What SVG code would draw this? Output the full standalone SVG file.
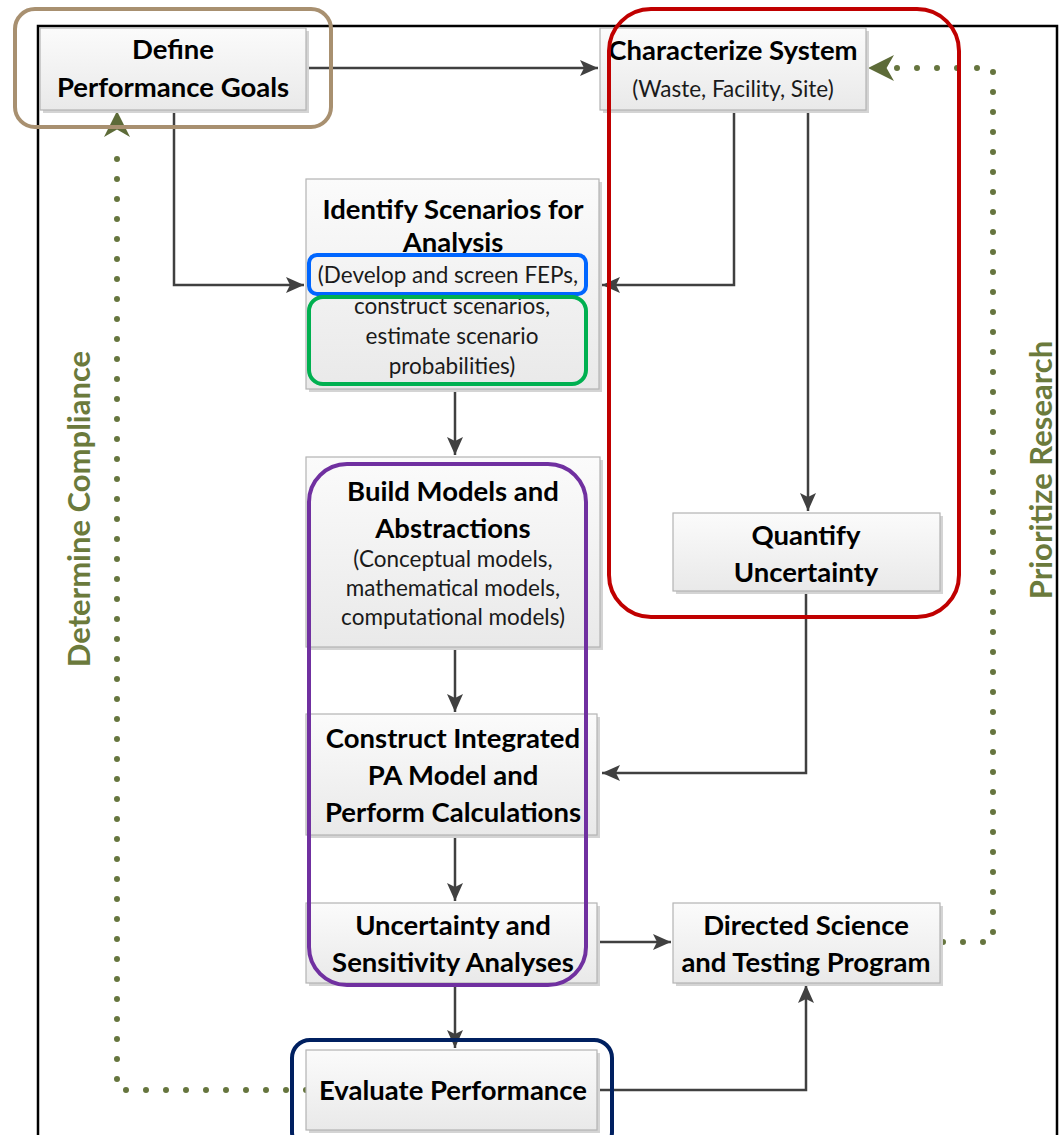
<svg xmlns="http://www.w3.org/2000/svg" width="1063" height="1135" viewBox="0 0 1063 1135">
  <defs>
    <linearGradient id="boxFill" x1="0" y1="0" x2="0" y2="1">
      <stop offset="0" stop-color="#fbfbfb"/>
      <stop offset="1" stop-color="#e9e9e9"/>
    </linearGradient>
    <marker id="arrow" viewBox="0 0 18 16" refX="18" refY="8" markerWidth="18" markerHeight="16" markerUnits="userSpaceOnUse" orient="auto">
      <path d="M0,0 L18,8 L0,16 L4,8 Z" fill="#404040"/>
    </marker>
    <marker id="arrowGreen" viewBox="0 0 14 14" refX="14" refY="7" markerWidth="26" markerHeight="26" markerUnits="userSpaceOnUse" orient="auto">
      <path d="M0,0 L14,7 L0,14 L4,7 Z" fill="#5d6b38"/>
    </marker>
  </defs>
  <style>
    .box { fill: url(#boxFill); stroke: #b3b3b3; stroke-width: 1.2; }
    .shadow { fill: #d4d4d4; }
    .title { font-family: Lato, "Liberation Sans", sans-serif; font-weight: bold; font-size: 27.5px; fill: #000; text-anchor: middle; }
    .sub { font-family: Lato, "Liberation Sans", sans-serif; font-size: 22.5px; fill: #1a1a1a; text-anchor: middle; }
    .conn { fill: none; stroke: #404040; stroke-width: 2.5; marker-end: url(#arrow); }
    .dots { fill: none; stroke: #66753e; stroke-width: 6; stroke-linecap: round; stroke-dasharray: 0 20; }
    .side { font-family: Lato, "Liberation Sans", sans-serif; font-weight: bold; font-size: 31px; fill: #6b7a3c; text-anchor: middle; }
    .hl { fill: none; stroke-width: 4; }
  </style>

  <rect width="1063" height="1135" fill="#ffffff"/>

  <!-- outer frame -->
  <path d="M38,1135 L38,26 L1057,26 L1057,1135" fill="none" stroke="#000" stroke-width="2.5"/>

  <!-- connectors -->
  <g id="connectors">
    <path class="conn" d="M306,68 L598,68"/>
    <path class="conn" d="M174,110 L174,285 L304,285"/>
    <path class="conn" d="M734,110 L734,285 L602,285"/>
    <path class="conn" d="M808,110 L808,511"/>
    <path class="conn" d="M455,390 L455,455"/>
    <path class="conn" d="M455,647 L455,712"/>
    <path class="conn" d="M806,591 L806,773 L602,773"/>
    <path class="conn" d="M455,835 L455,901"/>
    <path class="conn" d="M455,983 L455,1048"/>
    <path class="conn" d="M600,942 L671,942"/>
    <path class="conn" d="M600,1090 L806,1090 L806,985"/>
    <!-- feedback loops -->
    <path class="dots" d="M943,942 L993,942 L993,68 L895,68"/>
    <path d="M896,68 L868,68" stroke="none" marker-end="url(#arrowGreen)"/>
    <path class="dots" d="M306,1090 L117,1090 L117,142"/>
    <path d="M117,140 L117,111" stroke="none" marker-end="url(#arrowGreen)"/>
  </g>

  <!-- loop labels -->
  <text class="side" transform="translate(90,509) rotate(-90)">Determine Compliance</text>
  <text class="side" transform="translate(1052,470) rotate(-90)">Prioritize Research</text>

  <g id="define">
    <rect class="shadow" x="43" y="31" width="266" height="82"/>
    <rect class="box" x="40" y="28" width="266" height="82"/>
    <text class="title" x="173" y="59">Define</text>
    <text class="title" x="173" y="97">Performance Goals</text>
  </g>

  <g id="characterize">
    <rect class="shadow" x="603" y="31" width="266" height="82"/>
    <rect class="box" x="600" y="28" width="266" height="82"/>
    <text class="title" x="733" y="60">Characterize System</text>
    <text class="sub" x="733" y="97">(Waste, Facility, Site)</text>
  </g>

  <g id="identify">
    <rect class="shadow" x="309" y="182" width="293" height="210"/>
    <rect class="box" x="306" y="179" width="293" height="210"/>
    <text class="title" x="453" y="219">Identify Scenarios for</text>
    <text class="title" x="453" y="252">Analysis</text>
    <text class="sub" x="448" y="283">(Develop and screen FEPs,</text>
    <text class="sub" x="452" y="314">construct scenarios,</text>
    <text class="sub" x="452" y="344">estimate scenario</text>
    <text class="sub" x="452" y="374">probabilities)</text>
  </g>

  <g id="build">
    <rect class="shadow" x="309" y="460" width="294" height="190"/>
    <rect class="box" x="306" y="457" width="294" height="190"/>
    <text class="title" x="453" y="501">Build Models and</text>
    <text class="title" x="453" y="538">Abstractions</text>
    <text class="sub" x="453" y="567">(Conceptual models,</text>
    <text class="sub" x="453" y="596">mathematical models,</text>
    <text class="sub" x="453" y="625">computational models)</text>
  </g>

  <g id="quantify">
    <rect class="shadow" x="676" y="516" width="267" height="78"/>
    <rect class="box" x="673" y="513" width="267" height="78"/>
    <text class="title" x="806" y="545">Quantify</text>
    <text class="title" x="806" y="582">Uncertainty</text>
  </g>

  <g id="construct">
    <rect class="shadow" x="309" y="717" width="291" height="121"/>
    <rect class="box" x="306" y="714" width="291" height="121"/>
    <text class="title" x="453" y="748">Construct Integrated</text>
    <text class="title" x="453" y="785">PA Model and</text>
    <text class="title" x="453" y="822">Perform Calculations</text>
  </g>

  <g id="uncertainty">
    <rect class="shadow" x="309" y="906" width="291" height="80"/>
    <rect class="box" x="306" y="903" width="291" height="80"/>
    <text class="title" x="453" y="935">Uncertainty and</text>
    <text class="title" x="453" y="972">Sensitivity Analyses</text>
  </g>

  <g id="directed">
    <rect class="shadow" x="676" y="906" width="267" height="80"/>
    <rect class="box" x="673" y="903" width="267" height="80"/>
    <text class="title" x="806" y="935">Directed Science</text>
    <text class="title" x="806" y="972">and Testing Program</text>
  </g>

  <g id="evaluate">
    <rect class="shadow" x="309" y="1053" width="291" height="80"/>
    <rect class="box" x="306" y="1050" width="291" height="80"/>
    <text class="title" x="453" y="1100">Evaluate Performance</text>
  </g>

  <!-- highlight outlines -->
  <g id="highlights">
    <rect class="hl" x="15" y="9" width="316" height="118" rx="20" stroke="#a89070"/>
    <rect class="hl" x="609" y="9" width="350" height="608" rx="42" stroke="#c00000"/>
    <rect class="hl" x="309" y="255" width="277" height="39" rx="8" stroke="#0066ff"/>
    <rect class="hl" x="309" y="297" width="277" height="87" rx="14" stroke="#00b050"/>
    <rect class="hl" x="309" y="464" width="277" height="521" rx="38" stroke="#7030a0"/>
    <rect class="hl" x="292" y="1040" width="320" height="110" rx="18" stroke="#002060"/>
  </g>
</svg>
